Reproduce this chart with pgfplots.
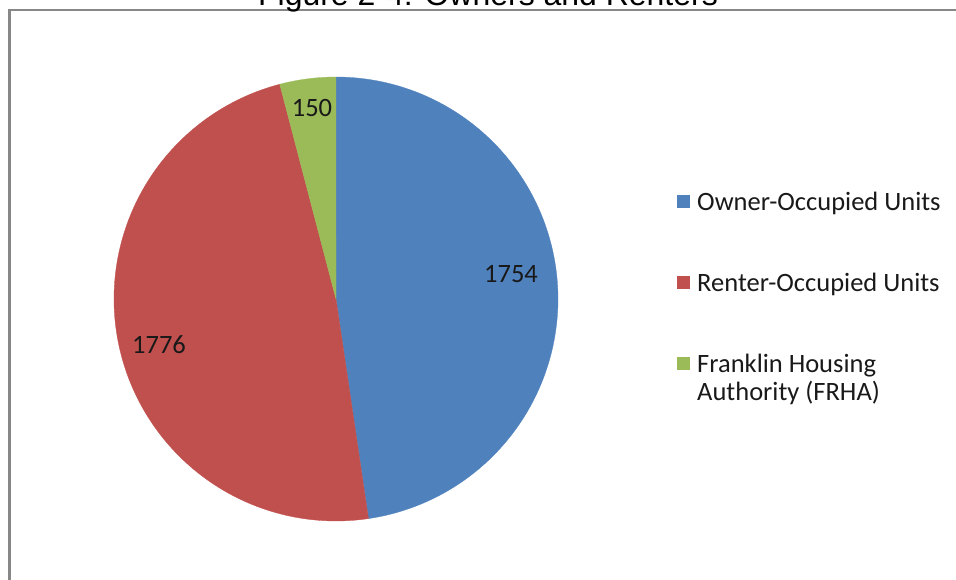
\documentclass[border=0pt]{standalone}
\usepackage{fontspec}
\setmainfont{Carlito}
\newfontfamily\titlefont{Liberation Sans}
\usepackage{pgfplots}
\pgfplotsset{compat=1.18}
\usepackage{pgfplotstable}
\definecolor{ownerblue}{HTML}{4F81BD}
\definecolor{renterred}{HTML}{C0504D}
\definecolor{frhagreen}{HTML}{9BBB59}
\definecolor{framegray}{HTML}{878787}

\pgfplotstableread{
label value
Owner 1754
Renter 1776
FRHA 150
}\piedata

\begin{document}
\begin{tikzpicture}
  \pgfplotstablegetelem{0}{value}\of\piedata \let\vA\pgfplotsretval
  \pgfplotstablegetelem{1}{value}\of\piedata \let\vB\pgfplotsretval
  \pgfplotstablegetelem{2}{value}\of\piedata \let\vC\pgfplotsretval
  \pgfmathsetmacro{\total}{\vA+\vB+\vC}
  % slices start at 12 o'clock and run clockwise
  \pgfmathsetmacro{\aA}{90}
  \pgfmathsetmacro{\aB}{90-(\vA/\total)*360}
  \pgfmathsetmacro{\aC}{\aB-(\vB/\total)*360}
  \pgfmathsetmacro{\aD}{\aC-(\vC/\total)*360}
  \clip (0,0) rectangle (956bp,580bp);
  \begin{axis}[at={(0,0)},anchor=south west,width=956bp,height=580bp,
      scale only axis,xmin=0,xmax=956,ymin=0,ymax=580,hide axis,clip=false]
    \addplot[fill=ownerblue,draw=ownerblue,line width=0.3bp,domain=\aB:\aA,samples=150,variable=\t]
      ({336+222*cos(t)},{281+222*sin(t)}) -- (axis cs:336,281) -- cycle;
    \addplot[fill=renterred,draw=renterred,line width=0.3bp,domain=\aC:\aB,samples=150,variable=\t]
      ({336+222*cos(t)},{281+222*sin(t)}) -- (axis cs:336,281) -- cycle;
    \addplot[fill=frhagreen,draw=frhagreen,line width=0.3bp,domain=\aD:\aC,samples=30,variable=\t]
      ({336+222*cos(t)},{281+222*sin(t)}) -- (axis cs:336,281) -- cycle;

    % data labels
    \begin{scope}[every node/.style={font=\fontsize{26.6}{32}\selectfont,text=black!90,inner sep=0pt,anchor=base}]
      \node at (axis cs:511,298) {\vA};
      \node at (axis cs:159,227) {\vB};
      \node at (axis cs:312,463) {\vC};
    \end{scope}

    % legend
    \fill[ownerblue] (axis cs:676.5,371.5) rectangle (axis cs:689.5,384.5);
    \fill[renterred] (axis cs:676.5,290.5) rectangle (axis cs:689.5,303.5);
    \fill[frhagreen] (axis cs:676.5,209.5) rectangle (axis cs:689.5,222.5);
    \begin{scope}[every node/.style={font=\fontsize{26.6}{32}\selectfont,text=black!90,inner sep=0pt,anchor=base west}]
      \node at (axis cs:697,370) {Owner-Occupied Units};
      \node at (axis cs:697,289) {Renter-Occupied Units};
      \node at (axis cs:697,208) {Franklin Housing};
      \node at (axis cs:697,180) {Authority (FRHA)};
    \end{scope}

    % frame and clipped title
    \draw[framegray,line width=2.5bp] (axis cs:9.5,0) -- (axis cs:9.5,570) -- (axis cs:960,570);
    \node[font=\titlefont\fontsize{32.1}{38}\selectfont,inner sep=0pt,anchor=base]
      at (axis cs:488,574) {Figure 2-4: Owners and Renters};
  \end{axis}
\end{tikzpicture}
\end{document}
